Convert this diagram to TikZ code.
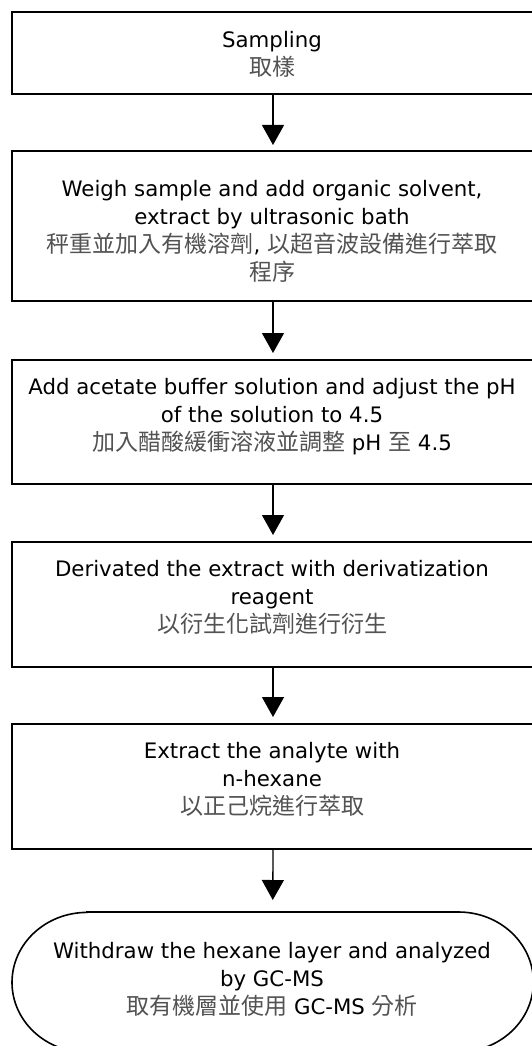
\documentclass[tikz,border=0pt]{standalone}
\usepackage{fontspec}
\setmainfont{DejaVu Sans}
\newfontfamily\cjkfont{Noto Sans CJK TC}
\newcommand\zhtxt[1]{{\cjkfont\fontsize{23}{28}\selectfont\color{black!68}#1}}
\usetikzlibrary{arrows.meta}
\begin{document}
\begin{tikzpicture}[x=1pt,y=-1pt,
  box/.style={draw, line width=2pt, minimum width=522pt, inner sep=0pt, anchor=north west},
  txt/.style={anchor=north, align=center, inner sep=0pt, font=\fontsize{21.3}{28}\selectfont},
  flow/.style={-{Triangle[width=22pt,length=20pt]}, line width=1.3pt}]
\useasboundingbox (0,0) rectangle (532,1046);
% boxes
\node[box, minimum height=82pt]  (b1) at (11,11) {};
\node[box, minimum height=150pt] (b2) at (11,150) {};
\node[box, minimum height=124pt] (b3) at (11,359) {};
\node[box, minimum height=125pt] (b4) at (11,541) {};
\node[box, minimum height=125pt] (b5) at (11,723) {};
\node[inner sep=0pt, minimum width=521pt, minimum height=140pt, anchor=north west] (b6) at (12,912) {};
\draw[line width=1.6pt] ([xshift=75pt]b6.north west) -- ([xshift=-75pt]b6.north east)
  arc[start angle=90, end angle=-90, x radius=75pt, y radius=70pt]
  -- ([xshift=75pt]b6.south west)
  arc[start angle=270, end angle=90, x radius=75pt, y radius=70pt] -- cycle;
% texts
\node[txt] (t1) at (272,31) {Sampling\\ \zhtxt{取樣}};
\node[txt] (t2) at (272,180) {Weigh sample and add organic solvent,\\ extract by ultrasonic bath\\ \zhtxt{秤重並加入有機溶劑}, \zhtxt{以超音波設備進行萃取}\\ \zhtxt{程序}};
\node[txt] (t3) at (272,378) {Add acetate buffer solution and adjust the pH\\ of the solution to 4.5\\ \zhtxt{加入醋酸緩衝溶液並調整} pH \zhtxt{至} 4.5};
\node[txt] (t4) at (272,560) {Derivated the extract with derivatization\\ reagent\\ \zhtxt{以衍生化試劑進行衍生}};
\node[txt] (t5) at (272,742) {Extract the analyte with\\ n-hexane\\ \zhtxt{以正己烷進行萃取}};
\node[txt] (t6) at (272,942) {Withdraw the hexane layer and analyzed\\ by GC-MS\\ \zhtxt{取有機層並使用} GC-MS \zhtxt{分析}};
% arrows
\draw[flow, shorten >=5pt] (b1.south) -- (b2.north);
\draw[flow, shorten >=6pt] (b2.south) -- (b3.north);
\draw[flow, shorten >=6pt] (b3.south) -- (b4.north);
\draw[flow, shorten >=6pt] (b4.south) -- (b5.north);
\draw[flow, shorten >=12pt] (b5.south) -- (b6.north);
\end{tikzpicture}
\end{document}
